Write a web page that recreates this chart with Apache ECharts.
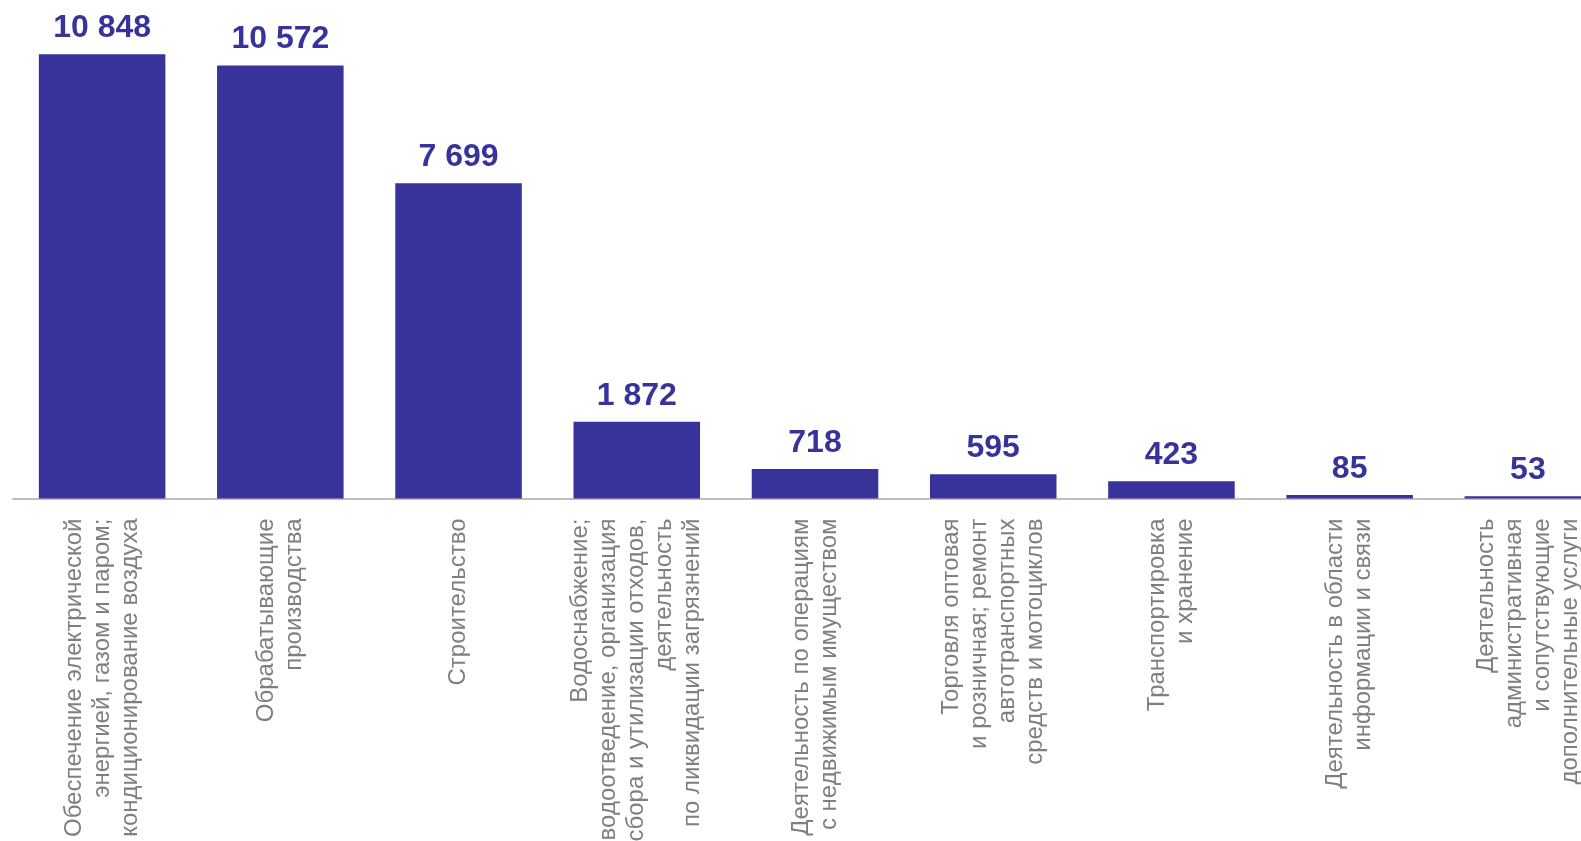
<!DOCTYPE html>
<html>
<head>
<meta charset="utf-8">
<script src="https://cdn.jsdelivr.net/npm/echarts@6/dist/echarts.min.js"></script>
<style>
html,body{margin:0;padding:0;background:#fff;}
#chart{width:1581px;height:841px;}
</style>
</head>
<body>
<div id="chart"></div>
<script>
const categories = [
  "Обеспечение электрической\nэнергией, газом и паром;\nкондиционирование воздуха",
  "Обрабатывающие\nпроизводства",
  "Строительство",
  "Водоснабжение;\nводоотведение, организация\nсбора и утилизации отходов,\nдеятельность\nпо ликвидации загрязнений",
  "Деятельность по операциям\nс недвижимым имуществом",
  "Торговля оптовая\nи розничная; ремонт\nавтотранспортных\nсредств и мотоциклов",
  "Транспортировка\nи хранение",
  "Деятельность в области\nинформации и связи",
  "Деятельность\nадминистративная\nи сопутствующие\nдополнительные услуги"
];
const values = [10848, 10572, 7699, 1872, 718, 595, 423, 85, 53];

const chart = echarts.init(document.getElementById('chart'));
chart.setOption({
  animation: false,
  backgroundColor: '#ffffff',
  grid: { left: 13, width: 1604, top: 7, bottom: 342.5, containLabel: false, outerBoundsMode: 'none' },
  xAxis: {
    type: 'category',
    data: categories,
    axisLine: { show: true, lineStyle: { color: '#BFBFBF', width: 2 } },
    axisTick: { show: false },
    axisLabel: {
      interval: 0,
      rotate: 90,
      margin: 20,
      fontSize: 24,
      lineHeight: 28,
      color: '#7F7F7F',
      fontFamily: 'Arial',
      align: 'right',
      hideOverlap: false
    }
  },
  yAxis: {
    type: 'value',
    min: 0,
    max: 12000,
    show: false,
    splitLine: { show: false }
  },
  series: [{
    type: 'bar',
    data: values,
    barCategoryGap: '29%',
    itemStyle: { color: '#37339A' },
    label: {
      show: true,
      position: 'top',
      distance: 10,
      color: '#37339A',
      fontSize: 32,
      fontWeight: 'bold',
      fontFamily: 'Arial',
      formatter: p => String(p.value).replace(/\B(?=(\d{3})+(?!\d))/g, ' ')
    }
  }]
});
</script>
</body>
</html>
